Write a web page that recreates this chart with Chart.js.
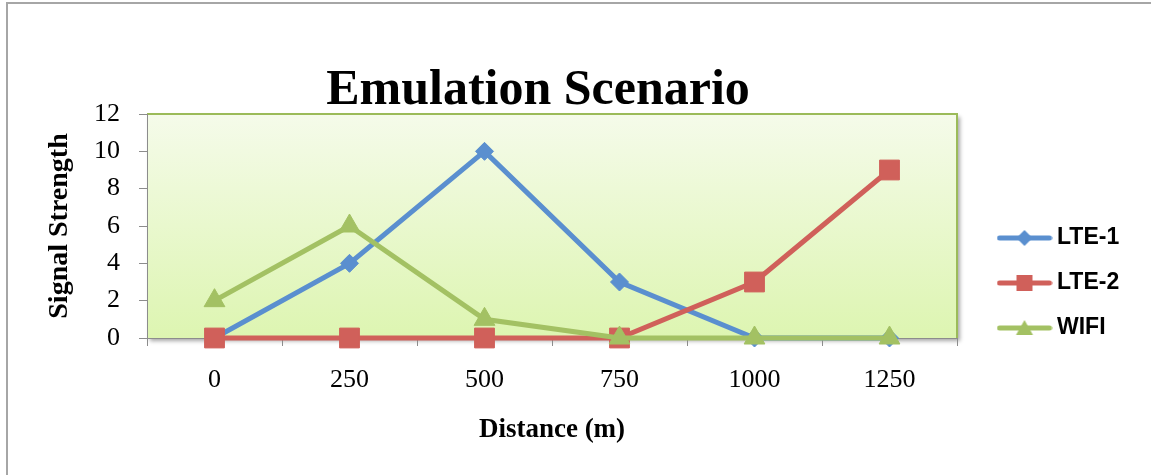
<!DOCTYPE html>
<html>
<head>
<meta charset="utf-8">
<title>Emulation Scenario</title>
<script src="https://cdn.jsdelivr.net/npm/chart.js@4.4.1/dist/chart.umd.min.js"></script>
<style>
  html, body { margin: 0; padding: 0; background: #fff; }
  #wrap { width: 1151px; height: 475px; }
</style>
</head>
<body>
<div id="wrap"><canvas id="chart" width="1151" height="475"></canvas></div>
<script>
// === DATA ===
const distances = ['0', '250', '500', '750', '1000', '1250'];
const lte1 = [0, 4, 10, 3, 0, 0];
const lte2 = [0, 0, 0, 0, 3, 9];
const wifi = [2, 6, 1, 0, 0, 0];
const yTicks = [0, 2, 4, 6, 8, 10, 12];

// === STYLE ===
const BLUE = '#5a8fcf';
const RED = '#d0605a';
const GREEN = '#a3c163';
const AXIS = '#8c8c8c';
const SERIF = "'Liberation Serif', 'Times New Roman', serif";
const SANS = "'Liberation Sans', Arial, sans-serif";

// legend sample: short line with the marker in the middle (like Excel)
function legendIcon(color, shape){
    const c = document.createElement('canvas');
    c.width = 56; c.height = 24;
    const ctx = c.getContext('2d');
    ctx.strokeStyle = color; ctx.fillStyle = color;
    ctx.lineWidth = 5; ctx.lineCap = 'round';
    ctx.beginPath(); ctx.moveTo(3, 12); ctx.lineTo(53, 12); ctx.stroke();
    ctx.beginPath();
    if(shape === 'diamond'){ ctx.moveTo(28, 4); ctx.lineTo(36, 12); ctx.lineTo(28, 20); ctx.lineTo(20, 12); }
    else if(shape === 'square'){ ctx.rect(20, 4, 16, 16); }
    else { ctx.moveTo(28, 4); ctx.lineTo(36.5, 19); ctx.lineTo(19.5, 19); }
    ctx.closePath(); ctx.fill();
    return c;
}
const icons = [legendIcon(BLUE, 'diamond'), legendIcon(RED, 'square'), legendIcon(GREEN, 'triangle')];

// === PLOT BACKGROUND / FRAME ===
const plotBackground = {
    id: 'plotBackground',
    beforeDraw(chart){
        const {ctx, chartArea: a} = chart;
        ctx.save();
        // page frame
        ctx.strokeStyle = '#a6a6a6'; ctx.lineWidth = 2;
        ctx.beginPath(); ctx.moveTo(7, 475); ctx.lineTo(7, 3); ctx.lineTo(1151, 3); ctx.stroke();
        // gradient plot area with soft shadow
        const g = ctx.createLinearGradient(0, a.top, 0, a.bottom);
        g.addColorStop(0, '#f5fbea');
        g.addColorStop(1, '#ddf5b1');
        ctx.shadowColor = 'rgba(0,0,0,0.35)'; ctx.shadowBlur = 4;
        ctx.shadowOffsetX = 3; ctx.shadowOffsetY = 3;
        ctx.fillStyle = g;
        ctx.fillRect(a.left, a.top, a.width, a.height);
        ctx.shadowColor = 'transparent';
        ctx.strokeStyle = '#9bbb59'; ctx.lineWidth = 2;
        ctx.beginPath(); ctx.moveTo(a.left, a.top); ctx.lineTo(a.right, a.top); ctx.lineTo(a.right, a.bottom); ctx.stroke();
        ctx.restore();
    }
};

// === FIXED BOX PLACEMENT ===
const placeBoxes = {
    id: 'placeBoxes',
    beforeLayout(chart){
        const lg = chart.legend;
        if(lg && !lg._fitPatched){
            const fit = lg.fit;
            lg.fit = function(){ fit.call(this); this.width = 194; };
            lg._fitPatched = true;
        }
    },
    afterLayout(chart){
        const lg = chart.legend;
        lg.left = 981.5; lg.right = 1151; lg.top = 204.5; lg.bottom = 475;
        // title centred a bit left of the canvas centre, like the original
        const t = chart.titleBlock;
        t.left = -75; t.right = 1151;
    }
};

// === CHART ===
const lineCommon = {borderWidth: 5, tension: 0, clip: false, pointBorderWidth: 1};

new Chart(document.getElementById('chart'), {
    type: 'line',
    data: {
        labels: distances,
        datasets: [
            Object.assign({label: 'LTE-1', data: lte1, borderColor: BLUE, backgroundColor: BLUE,
                pointStyle: 'rectRot', pointRadius: 9, pointHoverRadius: 9, order: 3}, lineCommon),
            Object.assign({label: 'LTE-2', data: lte2, borderColor: RED, backgroundColor: RED,
                pointStyle: 'rect', pointRadius: 14, pointHoverRadius: 14, order: 2}, lineCommon),
            Object.assign({label: 'WIFI', data: wifi, borderColor: GREEN, backgroundColor: GREEN,
                pointStyle: 'triangle', pointRadius: 12, pointHoverRadius: 12, order: 1}, lineCommon)
        ]
    },
    options: {
        responsive: false,
        animation: false,
        events: [],
        layout: {padding: 0},
        plugins: {
            tooltip: {enabled: false},
            title: {
                display: true, text: 'Emulation Scenario', color: '#000',
                font: {family: SERIF, size: 50, weight: 'bold', lineHeight: 0.8},
                padding: {top: 71, bottom: 3}
            },
            legend: {
                position: 'right', align: 'start',
                labels: {
                    usePointStyle: true, pointStyleWidth: 42, padding: 22, color: '#000',
                    font: {family: SANS, size: 23, weight: 'bold'},
                    sort: (a, b) => a.datasetIndex - b.datasetIndex,
                    generateLabels: chart => Chart.defaults.plugins.legend.labels.generateLabels(chart)
                        .map(item => Object.assign(item, {pointStyle: icons[item.datasetIndex]}))
                }
            }
        },
        scales: {
            x: {
                type: 'category', offset: true,
                grid: {offset: true, drawOnChartArea: false, drawTicks: true, tickLength: 8, color: AXIS},
                border: {color: AXIS, width: 1},
                ticks: {color: '#000', font: {family: SERIF, size: 26}, padding: 19, maxRotation: 0, autoSkip: false},
                title: {display: true, text: 'Distance (m)', color: '#000',
                    font: {family: SERIF, size: 27, weight: 'bold'}, padding: {top: 0, bottom: 29}},
                afterFit: s => { s.height = 137; }
            },
            y: {
                min: 0, max: 12,
                afterBuildTicks: s => { s.ticks = yTicks.map(v => ({value: v})); },
                grid: {drawOnChartArea: false, drawTicks: true, tickLength: 8, color: AXIS},
                border: {color: AXIS, width: 1},
                ticks: {color: '#000', font: {family: SERIF, size: 26}, padding: 19},
                title: {display: true, text: 'Signal Strength', color: '#000',
                    font: {family: SERIF, size: 28, weight: 'bold'}, padding: {top: 43, bottom: 0}},
                afterFit: s => { s.width = 147; }
            }
        }
    },
    plugins: [plotBackground, placeBoxes]
});
</script>
</body>
</html>
